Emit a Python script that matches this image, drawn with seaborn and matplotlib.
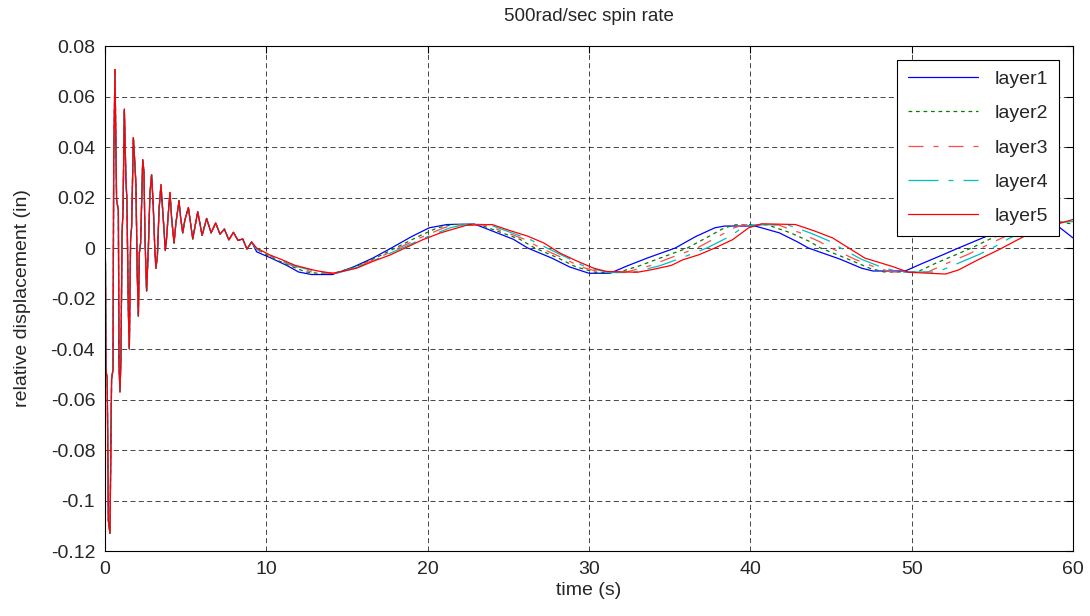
import numpy as np
import pandas as pd
import matplotlib
matplotlib.use("Agg")
import matplotlib.pyplot as plt
import seaborn as sns

# values
# damped start, all five layers lie on top of each other here
t_early = [0.00, 0.03, 0.06, 0.14, 0.21, 0.31, 0.41, 0.50, 0.54, 0.62, 0.72, 0.83, 0.87, 0.93, 0.99,
           1.06, 1.12, 1.20, 1.30, 1.36, 1.45, 1.51, 1.59, 1.65, 1.76, 1.86, 1.92, 2.00, 2.07, 2.13,
           2.21, 2.34, 2.42, 2.48, 2.58, 2.69, 2.79, 2.89, 2.99, 3.10, 3.16, 3.25, 3.35, 3.47, 3.62,
           3.74, 3.82, 3.93, 4.03, 4.13, 4.28, 4.40, 4.59, 4.69, 4.82, 4.95, 5.17, 5.44, 5.75, 6.02,
           6.30, 6.58, 6.86, 7.13, 7.40, 7.68, 7.96, 8.25, 8.54, 8.80, 9.09]
v_early = [0.0, -0.006, -0.048, -0.052, -0.108, -0.113, -0.052, -0.048, 0.034, 0.0707, 0.019, 0.015, -0.046, -0.057, -0.044,
           0.006, 0.015, 0.055, 0.027, 0.019, -0.025, -0.040, 0.004, 0.008, 0.0437, 0.0325, 0.025, -0.010, -0.027, -0.002,
           0.002, 0.035, 0.030, 0.004, -0.017, 0.000, 0.022, 0.029, 0.017, -0.002, -0.008, -0.003, 0.015, 0.025, 0.011,
           -0.001, 0.004, 0.014, 0.022, 0.012, 0.002, 0.010, 0.0187, 0.012, 0.006, 0.011, 0.016, 0.0036, 0.0144, 0.0050,
           0.0117, 0.0060, 0.0099, 0.0055, 0.0075, 0.0032, 0.0062, 0.0030, 0.0036, -0.0004, 0.0024]

# slow part, one array pair per layer
t_l1 = [9.4, 10.3, 11.3, 12.0, 12.8, 14.1, 15.4, 16.6, 17.75, 19.0, 20.1, 21.2, 22.9, 24.1, 25.3, 26.2, 27.7,
        28.8, 30.0, 31.3, 32.4, 33.6, 35.35, 36.6, 37.8, 38.4, 40.3, 41.8, 42.9, 43.6, 45.6, 46.9, 47.6, 49.6,
        50.7, 52.0, 52.9, 54.4, 55.7, 56.9, 58.3, 59.2, 60.0]
v_l1 = [-0.0015, -0.0040, -0.0070, -0.0095, -0.0105, -0.0105, -0.0075, -0.0040, 0.0, 0.0045, 0.0080, 0.0093, 0.0095,
        0.0065, 0.0035, 0.0, -0.0040, -0.0075, -0.0100, -0.0100, -0.0070, -0.0040, 0.0, 0.0045, 0.0080, 0.0087, 0.0087,
        0.0060, 0.0025, 0.0, -0.0045, -0.0080, -0.0091, -0.0091, -0.0060, -0.0025, 0.0, 0.0040, 0.0075, 0.0100, 0.0102,
        0.0080, 0.0040]

t_l2 = [9.4, 10.4, 11.45, 12.45, 13.2, 14.2, 15.5, 16.75, 18.0, 19.4, 20.6, 21.6, 23.2, 24.4, 25.7, 26.65, 28.1,
        29.2, 30.45, 31.8, 33.15, 34.4, 36.1, 37.4, 38.4, 39.1, 41.05, 42.5, 43.7, 44.35, 46.1, 47.4, 48.3, 50.35,
        51.5, 52.8, 53.7, 55.0, 56.3, 57.6, 59.0, 60.0]
t_l3 = [9.4, 10.5, 11.6, 12.8, 13.5, 14.3, 15.6, 16.9, 18.2, 19.7, 21.0, 22.0, 23.5, 24.7, 26.0, 27.0, 28.4,
        29.5, 30.8, 32.2, 33.8, 35.0, 36.7, 38.0, 39.0, 39.6, 41.7, 43.1, 44.3, 45.0, 46.5, 47.9, 48.8, 51.0,
        52.2, 53.5, 54.3, 55.6, 56.9, 58.2, 59.5, 60.0]
t_l4 = [9.4, 10.6, 11.7, 13.2, 13.8, 14.35, 15.7, 17.0, 18.4, 20.0, 21.4, 22.3, 23.8, 25.0, 26.3, 27.4, 28.7,
        29.8, 31.2, 32.7, 34.4, 35.7, 37.3, 38.7, 39.5, 40.2, 42.3, 43.7, 45.0, 45.6, 46.9, 48.3, 49.4, 51.6,
        52.9, 54.2, 55.0, 56.1, 57.4, 58.8, 60.0]
v_l2 = [-0.0005, -0.0040, -0.0070, -0.0095, -0.0100, -0.0100, -0.0075, -0.0040, 0.0, 0.0045, 0.0080, 0.0093, 0.0093,
        0.0065, 0.0035, 0.0, -0.0040, -0.0075, -0.0097, -0.0097, -0.0070, -0.0040, 0.0, 0.0045, 0.0080, 0.0092, 0.0092,
        0.0060, 0.0025, 0.0, -0.0045, -0.0080, -0.0095, -0.0095, -0.0060, -0.0025, 0.0, 0.0040, 0.0075, 0.0100, 0.0105,
        0.0095]
v_l3 = v_l2[:-1] + [0.0105]
v_l4 = v_l2[:-2] + [0.0105]

t_l5 = [9.4, 10.2, 11.0, 11.8, 13.1, 14.1, 14.7, 15.6, 16.6, 17.7, 18.6, 19.7, 20.8, 22.4, 24.0, 25.1, 26.2, 27.2,
        27.7, 28.2, 29.3, 30.3, 31.1, 33.0, 33.8, 35.1, 35.8, 36.8, 37.8, 38.9, 39.9, 40.7, 42.8, 44.0, 45.1, 46.1,
        47.1, 48.8, 49.8, 52.1, 52.9, 54.1, 55.4, 56.4, 57.6, 59.3, 60.0]
v_l5 = [0.0, -0.0027, -0.0047, -0.0069, -0.0090, -0.0100, -0.0093, -0.0080, -0.0053, -0.0027, 0.0, 0.0033, 0.0060,
        0.0090, 0.0093, 0.0069, 0.0047, 0.0020, 0.0, -0.0020, -0.0053, -0.0080, -0.0093, -0.0096, -0.0087, -0.0069,
        -0.0047, -0.0027, 0.0, 0.0033, 0.0080, 0.0096, 0.0093, 0.0067, 0.0040, 0.0, -0.0040, -0.0073, -0.0096, -0.0103,
        -0.0087, -0.0047, -0.0007, 0.0027, 0.0067, 0.0100, 0.0113]

layer_names = ["layer1", "layer2", "layer3", "layer4", "layer5"]
slow_t = [t_l1, t_l2, t_l3, t_l4, t_l5]
slow_v = [v_l1, v_l2, v_l3, v_l4, v_l5]

x_ticks = [0, 10, 20, 30, 40, 50, 60]
y_ticks = [-0.12, -0.1, -0.08, -0.06, -0.04, -0.02, 0, 0.02, 0.04, 0.06, 0.08]
y_tick_labels = ["-0.12", "-0.1", "-0.08", "-0.06", "-0.04", "-0.02", "0", "0.02", "0.04", "0.06", "0.08"]

colors = ["#0000ff", "#008000", "#ff4a4a", "#00bfbf", "#ff0000"]
styles = ["-", (0, (3, 3)), (0, (12, 8, 4, 8)), (0, (24, 8, 4, 8)), "-"]

sns.set_style("white")
plt.rcParams["font.family"] = ["Liberation Sans", "DejaVu Sans"]
plt.rcParams["axes.unicode_minus"] = False

fig = plt.figure(figsize=(10.9, 6.16), dpi=100)
ax = fig.add_axes([0.0963, 0.1055, 0.8881, 0.8198])

for name, ts, vs, c, ls in zip(layer_names, slow_t, slow_v, colors, styles):
    df = pd.DataFrame({"time": t_early + ts, "disp": v_early + vs})
    sns.lineplot(data=df, x="time", y="disp", ax=ax, estimator=None, sort=False,
                 color=c, linestyle=ls, linewidth=0.9, label=name)

ax.set_xlim(0, 60)
ax.set_ylim(-0.12, 0.08)
ax.set_xticks(x_ticks)
ax.set_yticks(y_ticks)
ax.set_yticklabels(y_tick_labels)
ax.grid(True, color="k", linestyle=(0, (6, 4)), linewidth=0.6, alpha=0.85)
ax.tick_params(direction="in", top=True, right=True, labelsize=14, length=5, color="k", pad=7)
for s in ax.spines.values():
    s.set_color("k")
    s.set_linewidth(0.8)

ax.set_title("500rad/sec spin rate", fontsize=13.5, pad=18)
ax.set_xlabel("time (s)", fontsize=14, labelpad=3)
ax.set_ylabel("relative displacement (in)", fontsize=14, labelpad=14)

leg = ax.legend(loc="upper right", fontsize=14, handlelength=3.6, frameon=True, fancybox=False,
                edgecolor="k", framealpha=1, borderaxespad=0.7, labelspacing=0.86,
                handletextpad=0.9, borderpad=0.55)
leg.get_frame().set_linewidth(0.8)

fig.savefig("out.png", dpi=100)
